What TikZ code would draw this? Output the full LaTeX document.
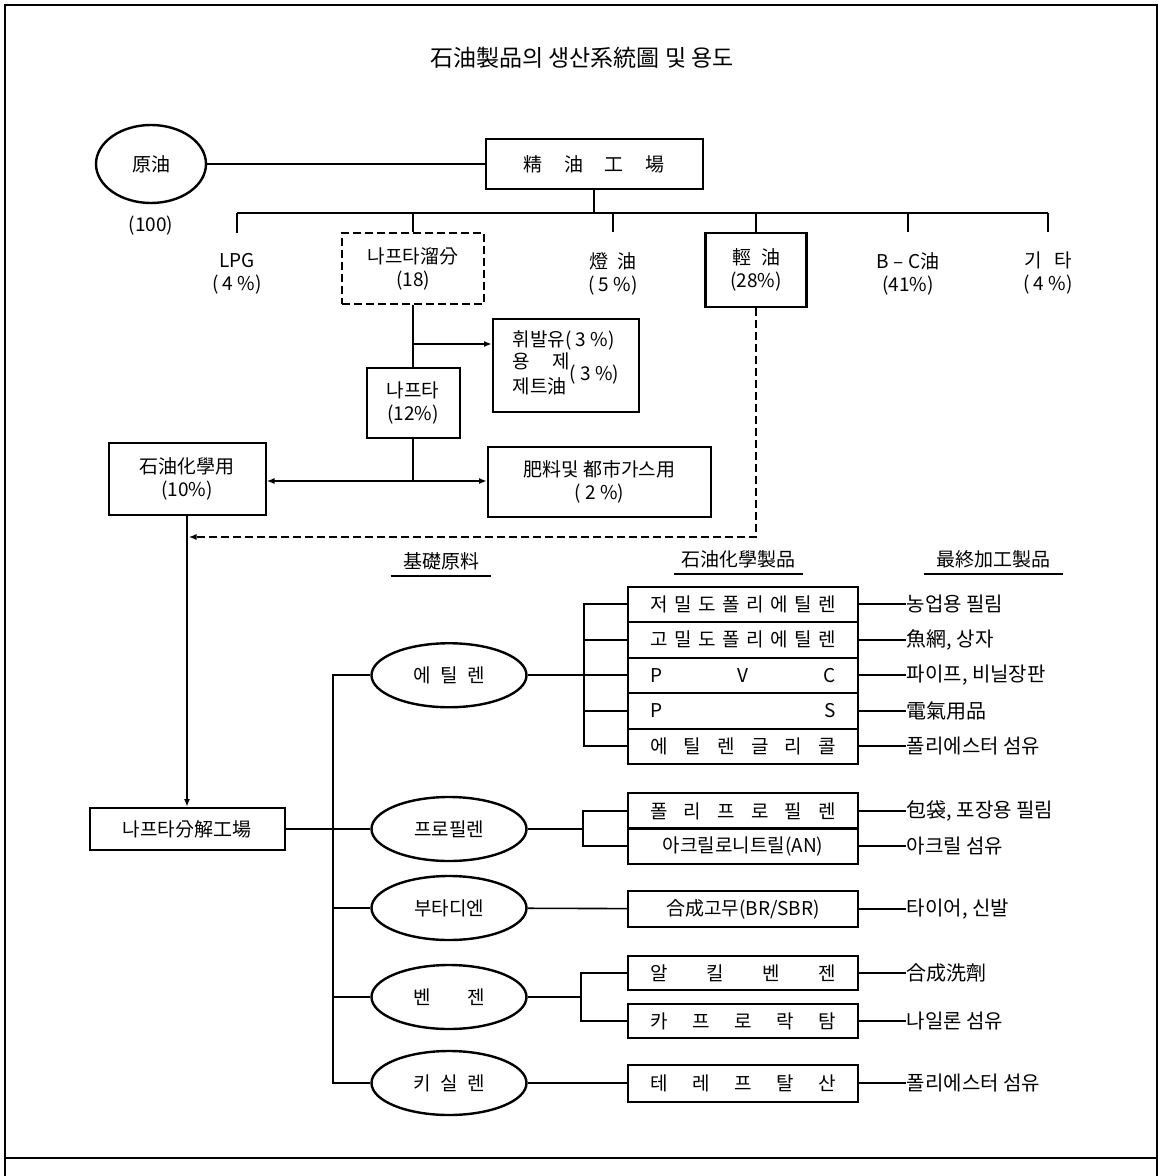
\documentclass[tikz,border=0pt]{standalone}
\usepackage{fontspec}
\setmainfont{Noto Sans CJK KR}
\usetikzlibrary{arrows.meta, positioning, shapes.geometric}
\newcommand{\spr}[2]{\makebox[#1][s]{\spaceskip=0pt plus 1fil\relax #2}}

\begin{document}
\begin{tikzpicture}[
  x=0.5pt, y=-0.5pt,
  line width=0.8pt,
  box/.style={draw, line width=1pt, align=center, inner sep=2pt,
              font=\fontsize{9.5}{11.5}\selectfont},
  oval/.style={draw, ellipse, line width=1.2pt, inner sep=0pt,
               minimum width=77.5pt, minimum height=32pt,
               font=\fontsize{9.5}{11.5}\selectfont},
  prod/.style={box, inner sep=0pt, minimum width=115pt, minimum height=17.75pt},
  lbl/.style={align=center, inner ysep=9.5pt, font=\fontsize{9.5}{11.5}\selectfont},
  enduse/.style={anchor=west, inner xsep=0pt, font=\fontsize{10}{12}\selectfont},
  colhead/.style={inner ysep=2.75pt, font=\fontsize{9.5}{11.5}\selectfont},
  arr/.style={-{Latex[length=4pt, width=3pt]}},
]
\useasboundingbox (0,0) rectangle (1164,1176);

% frame
\draw[line width=1pt] (5,1176) -- (5,5) -- (1157,5) -- (1157,1176);
\draw[line width=1pt] (5,1158) -- (1157,1158);

\node[font=\fontsize{11.5}{13}\selectfont] (title) at (582,58) {石油製品의 생산系統圖 및 용도};

% refinery
\node[oval, minimum width=55pt, minimum height=39pt] (crude) at (151,164) {原油};
\node[below=2pt of crude, font=\fontsize{9.5}{11.5}\selectfont] (crudepct) {(100)};
\node[box, minimum width=108.5pt, minimum height=25pt] (refinery) at (594,164)
  {\spr{70.5pt}{精 油 工 場}};
\draw (crude) -- (refinery);

\coordinate (busL) at (237,213);
\coordinate (busR) at (1048,213);
\draw (busL) -- (busR);
\draw (refinery) -- (refinery |- busL);

\node[lbl] (lpg) at (237,273.5) {LPG\\( 4 \%)};
\node[box, dashed, dash pattern=on 4pt off 2pt, minimum width=71pt, minimum height=35.5pt]
  (naphfrac) at (413,268.5) {나프타溜分\\(18)};
\node[lbl] (kero) at (613,273.5) {\spr{23.5pt}{燈 油}\\( 5 \%)};
\node[box, line width=1.2pt, minimum width=50.5pt, minimum height=37pt]
  (diesel) at (756,270) {\spr{24pt}{輕 油}\\(28\%)};
\node[lbl] (bc) at (908,273.5) {B – C油\\(41\%)};
\node[lbl] (etc) at (1048,273.5) {\spr{24pt}{기 타}\\( 4 \%)};

\draw (busL) -- (lpg);
\draw (naphfrac |- busL) -- (naphfrac);
\draw (kero |- busL) -- (kero);
\draw (diesel |- busL) -- (diesel);
\draw (bc |- busL) -- (bc);
\draw (busR) -- (etc);

% naphtha
\node[box, align=left, minimum width=73pt, minimum height=46.5pt] (gasoline) at (566,365.5)
  {휘발유( 3 \%)\\
   \begin{tabular}{@{}l@{}}\spr{28.5pt}{용 제}\\[1pt] 제트油\end{tabular}( 3 \%)};
\node[box, minimum width=46.5pt, minimum height=35pt] (naphtha) at (413,403) {나프타\\(12\%)};
\node[box, minimum width=78.5pt, minimum height=36pt] (petchem) at (187,479) {石油化學用\\(10\%)};
\node[box, minimum width=111.5pt, minimum height=35pt] (fert) at (599.5,482)
  {肥料및 都市가스用\\( 2 \%)};

\coordinate (gasj) at (413,344);
\coordinate (split) at (413,481);
\draw (naphfrac) -- (naphtha);
\draw[arr] (gasj) -- (gasj -| gasoline.west);
\draw (naphtha) -- (split);
\draw[arr] (split) -- (split -| petchem.east);
\draw[arr] (split) -- (split -| fert.west);

\coordinate (dashend) at (188.5,537);
\draw[arr, dashed, dash pattern=on 4pt off 2pt] (diesel) |- (dashend);

\node[box, minimum width=97.5pt, minimum height=21pt] (cracker) at (187,829) {나프타分解工場};
\draw[arr] (petchem) -- (cracker);

% column heads
\node[colhead, minimum width=49.5pt] (hbase) at (441,561) {基礎原料};
\node[colhead, minimum width=57.5pt] (hchem) at (738.5,559) {石油化學製品};
\node[colhead, minimum width=68.5pt] (hend) at (993.5,559) {最終加工製品};
\draw (hbase.south west) -- (hbase.south east);
\draw (hchem.south west) -- (hchem.south east);
\draw (hend.south west) -- (hend.south east);

% basic feedstocks
\node[oval] (ethylene)  at (449,675.25) {\spr{36pt}{에 틸 렌}};
\node[oval] (propylene) at (449,829)    {프로필렌};
\node[oval] (butadiene) at (449,908)    {부타디엔};
\node[oval] (benzene)   at (449,997)    {\spr{36pt}{벤 젠}};
\node[oval] (xylene)    at (449,1083)   {\spr{36pt}{키 실 렌}};

\coordinate (lbus) at (333,829);
\draw (cracker) -- (propylene);
\draw (ethylene.west) -| (lbus |- xylene) -- (xylene.west);
\draw (butadiene.west) -- (butadiene.west -| lbus);
\draw (benzene.west) -- (benzene.west -| lbus);

% petrochemical products
\node[prod] (ldpe) at (743,604.25) {\spr{93pt}{저 밀 도 폴 리 에 틸 렌}};
\node[prod] (hdpe) at (743,639.75) {\spr{93pt}{고 밀 도 폴 리 에 틸 렌}};
\node[prod] (pvc)  at (743,675.25) {\spr{93pt}{P V C}};
\node[prod] (ps)   at (743,710.75) {\spr{93pt}{P S}};
\node[prod] (eg)   at (743,746.25) {\spr{93pt}{에 틸 렌 글 리 콜}};
\node[prod] (pp)   at (743,811)    {\spr{93pt}{폴 리 프 로 필 렌}};
\node[prod] (an)   at (743,846)    {아크릴로니트릴(AN)};
\node[prod, minimum height=18pt] (rubber) at (743,909) {合成고무(BR/SBR)};
\node[prod, minimum height=17pt] (alkyl)  at (743,973)  {\spr{93pt}{알 킬 벤 젠}};
\node[prod, minimum height=17pt] (capro)  at (743,1021) {\spr{93pt}{카 프 로 락 탐}};
\node[prod, minimum height=18.5pt] (pta)  at (743,1083) {\spr{93pt}{테 레 프 탈 산}};

\coordinate (ebus) at (584,675.25);
\coordinate (pbus) at (583,829);
\coordinate (bbus) at (581,997);
\draw (ethylene) -- (pvc);
\draw (ldpe.west) -| (ebus |- eg.west) -- (eg.west);
\draw (hdpe.west) -- (hdpe.west -| ebus);
\draw (ps.west) -- (ps.west -| ebus);
\draw (propylene) -- (pbus);
\draw (pp.west) -| (pbus |- an.west) -- (an.west);
\draw (butadiene) -- (rubber);
\draw (benzene) -- (bbus);
\draw (alkyl.west) -| (bbus |- capro.west) -- (capro.west);
\draw (xylene) -- (pta);

% end uses
\node[enduse] (u1)  at (906,604.25) {농업용 필림};
\node[enduse] (u2)  at (906,639.75) {魚網, 상자};
\node[enduse] (u3)  at (906,675.25) {파이프, 비닐장판};
\node[enduse] (u4)  at (906,710.75) {電氣用品};
\node[enduse] (u5)  at (906,746.25) {폴리에스터 섬유};
\node[enduse] (u6)  at (906,811)    {包袋, 포장용 필림};
\node[enduse] (u7)  at (906,846)    {아크릴 섬유};
\node[enduse] (u8)  at (906,909)    {타이어, 신발};
\node[enduse] (u9)  at (906,973)    {合成洗劑};
\node[enduse] (u10) at (906,1021)   {나일론 섬유};
\node[enduse] (u11) at (906,1083)   {폴리에스터 섬유};
\draw (ldpe) -- (u1);
\draw (hdpe) -- (u2);
\draw (pvc) -- (u3);
\draw (ps) -- (u4);
\draw (eg) -- (u5);
\draw (pp) -- (u6);
\draw (an) -- (u7);
\draw (rubber) -- (u8);
\draw (alkyl) -- (u9);
\draw (capro) -- (u10);
\draw (pta) -- (u11);
\end{tikzpicture}
\end{document}
